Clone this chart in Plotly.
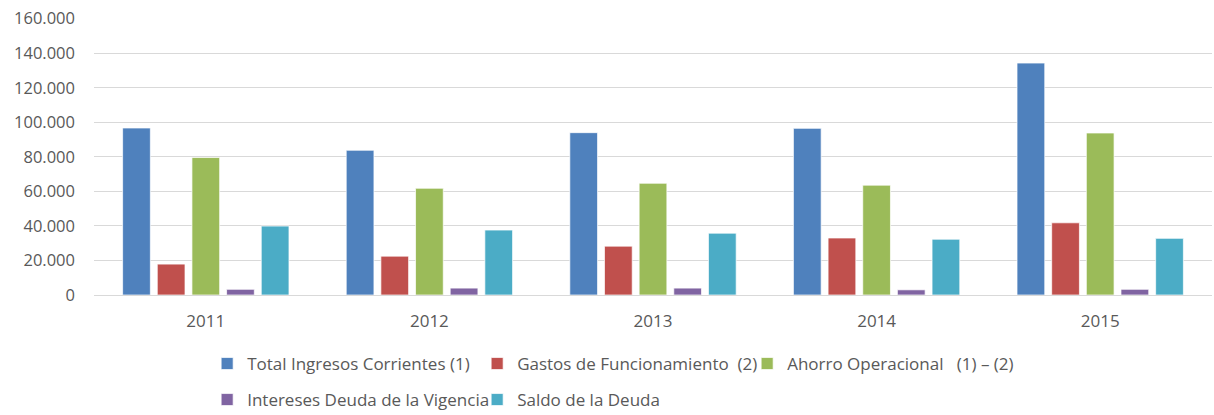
import plotly.graph_objects as go

years = ["2011", "2012", "2013", "2014", "2015"]
series_names = [
    "Total Ingresos Corrientes (1)",
    "Gastos de Funcionamiento  (2)",
    "Ahorro Operacional   (1) – (2)",
    "Intereses Deuda de la Vigencia",
    "Saldo de la Deuda",
]
total_ingresos = [96700, 83800, 94000, 96500, 134300]
gastos_funcionamiento = [17900, 22500, 28300, 33000, 41800]
ahorro_operacional = [79600, 61800, 64700, 63600, 93800]
intereses_deuda = [3300, 4000, 4000, 3000, 3300]
saldo_deuda = [39900, 37600, 35800, 32300, 32800]
y_ticks = [0, 20000, 40000, 60000, 80000, 100000, 120000, 140000, 160000]

colors = ["#4F81BD", "#C0504D", "#9BBB59", "#8064A2", "#4BACC6"]
values = [total_ingresos, gastos_funcionamiento, ahorro_operacional, intereses_deuda, saldo_deuda]
legends = ["legend", "legend", "legend", "legend2", "legend2"]

fig = go.Figure()
for name, vals, col, lg in zip(series_names, values, colors, legends):
    fig.add_trace(go.Bar(
        x=years, y=vals, name=name, legend=lg,
        marker=dict(color=col, line=dict(color="rgba(255,255,255,0.7)", width=1)),
    ))

font_family = "Open Sans"
text_color = "#595959"

legend_common = dict(
    orientation="h", xanchor="left", yanchor="middle",
    font=dict(family=font_family, size=17, color=text_color),
    entrywidth=225, entrywidthmode="pixels", itemwidth=30,
    bgcolor="rgba(0,0,0,0)", traceorder="normal",
)

fig.update_layout(
    width=1214, height=415,
    margin=dict(l=94, r=2, t=18, b=120, autoexpand=False),
    paper_bgcolor="white", plot_bgcolor="white",
    separators=",.",
    barmode="group", bargap=0.225, bargroupgap=0.2,
    font=dict(family=font_family, color=text_color),
    legend=dict(x=0.1012, y=-0.249, **legend_common),
    legend2=dict(x=0.1012, y=-0.379, **legend_common),
    xaxis=dict(
        showgrid=False, showline=True, linecolor="#D9D9D9", linewidth=1,
        tickfont=dict(family=font_family, size=17, color=text_color),
        ticks="", ticklabelstandoff=11, automargin=False,
    ),
    yaxis=dict(
        range=[0, 160400], tickvals=y_ticks, tickformat=",d",
        showgrid=True, gridcolor="#D9D9D9", gridwidth=1,
        zeroline=False, showline=False,
        tickfont=dict(family=font_family, size=16.5, color=text_color),
        ticks="", ticklabelstandoff=18, automargin=False,
    ),
)

fig.write_html(
    "out.html",
    config={"displayModeBar": False},
    post_script="document.body.style.margin='0';document.body.style.overflow='hidden';",
)
